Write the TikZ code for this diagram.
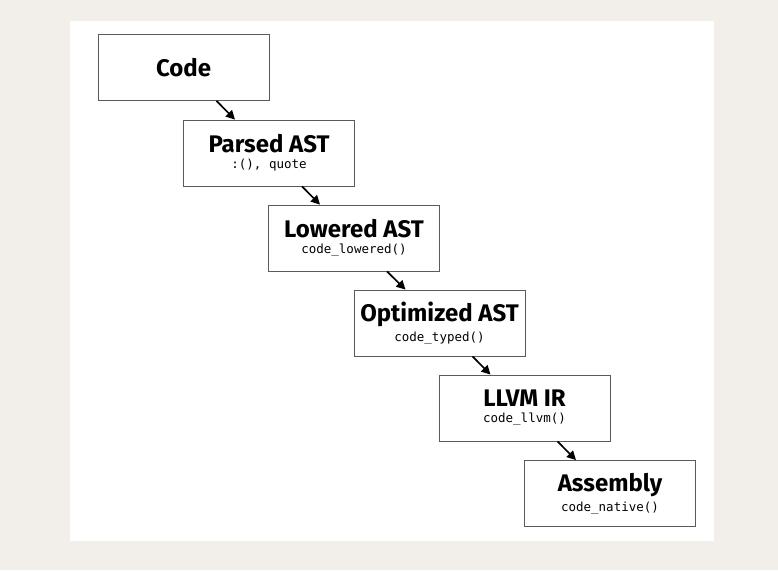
\documentclass[tikz,border=0pt]{standalone}
\usepackage{fontspec}
\setmainfont{Fira Sans}
\setmonofont{DejaVu Sans Mono}
\usepackage{xcolor}
\usepackage{tikz}
\usetikzlibrary{arrows.meta,positioning}

\definecolor{paper}{HTML}{F2EFEA}
\definecolor{boxline}{HTML}{5A5A5A}

\tikzset{
  stage/.style={draw=boxline, line width=0.8pt, fill=white, minimum width=171pt, minimum height=66pt, align=center, inner sep=0pt},
  flow/.style={-{Triangle[length=9pt,width=9pt]}, line width=1.7pt, black}
}
\newcommand{\stagetitle}[1]{{\fontsize{24}{24}\selectfont\bfseries #1}}
\newcommand{\stagecall}[1]{{\fontsize{12.5}{14}\selectfont\ttfamily #1}}

\begin{document}
\begin{tikzpicture}[x=1pt,y=-1pt]
		\useasboundingbox (0,0) rectangle (778,570);
		\fill[paper] (0,0) rectangle (778,570);
		\fill[white] (70,21) rectangle (714,541);

		\node[stage] (code) at (183.5,67.5) {\stagetitle{Code}};
		\node[stage] (parsed) at (269,153) {\stagetitle{Parsed AST}\\[4pt]\stagecall{:(), quote}};
		\node[stage] (lowered) at (354,238) {\stagetitle{Lowered AST}\\[4pt]\stagecall{code\_lowered()}};
		\node[stage] (optimized) at (439.5,323) {\stagetitle{Optimized AST}\\[4pt]\stagecall{code\_typed()}};
		\node[stage] (llvm) at (524.5,408) {\stagetitle{LLVM IR}\\[4pt]\stagecall{code\_llvm()}};
		\node[stage] (assembly) at (610,493.5) {\stagetitle{Assembly}\\[4pt]\stagecall{code\_native()}};

		\draw[flow] ([xshift=33pt]code.south) -- ([xshift=-34pt]parsed.north);
		\draw[flow] ([xshift=33pt]parsed.south) -- ([xshift=-34pt]lowered.north);
		\draw[flow] ([xshift=33pt]lowered.south) -- ([xshift=-34pt]optimized.north);
		\draw[flow] ([xshift=33pt]optimized.south) -- ([xshift=-34pt]llvm.north);
		\draw[flow] ([xshift=33pt]llvm.south) -- ([xshift=-34pt]assembly.north);
	\end{tikzpicture}
\end{document}
